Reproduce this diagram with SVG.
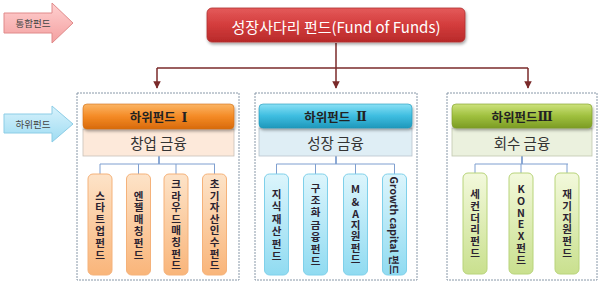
<svg xmlns="http://www.w3.org/2000/svg" width="600" height="285" viewBox="0 0 600 285">
<defs>
<linearGradient id="gRed" x1="0" y1="0" x2="0" y2="1"><stop offset="0" stop-color="#e45a5a"/><stop offset="0.5" stop-color="#d33c3c"/><stop offset="1" stop-color="#b82a2a"/></linearGradient>
<linearGradient id="gPink" x1="0" y1="0" x2="0" y2="1"><stop offset="0" stop-color="#ffd0d0"/><stop offset="1" stop-color="#f3a0a0"/></linearGradient>
<linearGradient id="gSky" x1="0" y1="0" x2="0" y2="1"><stop offset="0" stop-color="#d8f2fc"/><stop offset="1" stop-color="#9edcf2"/></linearGradient>
<linearGradient id="gOrH" x1="0" y1="0" x2="0" y2="1"><stop offset="0" stop-color="#fbb565"/><stop offset="0.5" stop-color="#f48a25"/><stop offset="1" stop-color="#d86a0c"/></linearGradient>
<linearGradient id="gBlH" x1="0" y1="0" x2="0" y2="1"><stop offset="0" stop-color="#8ae0f5"/><stop offset="0.5" stop-color="#3dbde0"/><stop offset="1" stop-color="#1f98bb"/></linearGradient>
<linearGradient id="gGrH" x1="0" y1="0" x2="0" y2="1"><stop offset="0" stop-color="#cde27d"/><stop offset="0.5" stop-color="#9fc03e"/><stop offset="1" stop-color="#7c9c25"/></linearGradient>
<linearGradient id="gOrL" x1="0" y1="0" x2="0" y2="1"><stop offset="0" stop-color="#fde3c8"/><stop offset="1" stop-color="#f9b57a"/></linearGradient>
<linearGradient id="gBlL" x1="0" y1="0" x2="0" y2="1"><stop offset="0" stop-color="#dcf5fc"/><stop offset="1" stop-color="#90dbf1"/></linearGradient>
<linearGradient id="gGrL" x1="0" y1="0" x2="0" y2="1"><stop offset="0" stop-color="#f3f9dc"/><stop offset="1" stop-color="#c9e08e"/></linearGradient>
<filter id="sh" x="-10%" y="-20%" width="120%" height="160%"><feDropShadow dx="1" dy="2" stdDeviation="1.5" flood-color="#000" flood-opacity="0.35"/></filter>
<marker id="ah" viewBox="0 0 10 10" refX="9" refY="5" markerWidth="5" markerHeight="5" orient="auto"><path d="M0,0 L10,5 L0,10 z" fill="#7a2a2a"/></marker>
<style>
.kr{font-family:"Noto Sans CJK KR","Noto Sans",sans-serif}
.rn{font-family:"DejaVu Serif","Noto Sans CJK KR",serif}
.group{fill:none;stroke:#8898a8;stroke-width:1;stroke-dasharray:2,1}
.hdr{font-size:12.5px;font-weight:bold;fill:#222;text-anchor:middle;dominant-baseline:central}
.sub{font-size:14.5px;fill:#333;text-anchor:middle;dominant-baseline:central}
.leaf{font-size:10.5px;font-weight:bold;fill:#2a2230;text-anchor:middle;dominant-baseline:central}
.tree{fill:none;stroke:#7f9fd0;stroke-width:1}
.trunk{fill:none;stroke:#3f6fb8;stroke-width:1.2}
.conn{fill:none;stroke:#7a2a2a;stroke-width:1.5}
</style>
</defs>
<rect width="600" height="285" fill="#ffffff"/>

<g id="label-tonghap">
<path d="M4,13 H52 V3 L73,23 L52,43 V33 H4 Z" fill="url(#gPink)" stroke="#e08a8a" stroke-width="1"/>
<text class="kr" x="33" y="23" font-size="9.5" fill="#444" text-anchor="middle" dominant-baseline="central">통합펀드</text>
</g>
<g id="label-hawi">
<path d="M4,114 H52 V106 L73,124 L52,142 V133 H4 Z" fill="url(#gSky)" stroke="#8ccde6" stroke-width="1"/>
<text class="kr" x="33" y="124" font-size="9.5" fill="#444" text-anchor="middle" dominant-baseline="central">하위펀드</text>
</g>

<g id="connectors">
<path class="conn" d="M336,43 V68"/>
<path class="conn" d="M157,68 H528"/>
<path class="conn" d="M157,68 V88" marker-end="url(#ah)"/>
<path class="conn" d="M336,68 V88" marker-end="url(#ah)"/>
<path class="conn" d="M528,68 V88" marker-end="url(#ah)"/>
<path class="trunk" d="M159,156 V164"/>
<path class="tree" d="M100,164 H215 M100,164 V174 M138.5,164 V174 M176,164 V174 M214.5,164 V174"/>
<path class="trunk" d="M336,156 V164"/>
<path class="tree" d="M276.5,164 H394.5 M276.5,164 V174 M315.5,164 V174 M355.5,164 V174 M394.5,164 V174"/>
<path class="trunk" d="M522,156 V164"/>
<path class="tree" d="M475,164 H568 M475,164 V173 M521,164 V173 M567,164 V173"/>
</g>

<g id="top">
<rect x="207" y="8" width="258" height="34" rx="5" fill="url(#gRed)" stroke="#b03030" stroke-width="0.8" filter="url(#sh)"/>
<text class="kr" x="336" y="26" font-size="15" fill="#ffffff" text-anchor="middle" dominant-baseline="central">성장사다리 펀드(Fund of Funds)</text>
</g>

<g id="group1">
<rect class="group" x="77" y="93" width="162" height="187"/>
<rect x="83" y="129" width="151" height="27" fill="#fde9da" stroke="#c8c0b8" stroke-width="0.8"/>
<rect x="83" y="104" width="151" height="25" rx="4" fill="url(#gOrH)" stroke="#d07018" stroke-width="0.6" filter="url(#sh)"/>
<text class="kr hdr" x="158.5" y="116.5">하위펀드 <tspan class="rn" dx="3">Ⅰ</tspan></text>
<text class="kr sub" x="158.5" y="142.5">창업 금융</text>
</g>
<g id="group2">
<rect class="group" x="255" y="93" width="162" height="187"/>
<rect x="259" y="128" width="153" height="28" fill="#dfeef5" stroke="#b8c4cc" stroke-width="0.8"/>
<rect x="259" y="104" width="153" height="24" rx="4" fill="url(#gBlH)" stroke="#1f98bb" stroke-width="0.6" filter="url(#sh)"/>
<text class="kr hdr" x="335.5" y="116">하위펀드 <tspan class="rn" dx="3">Ⅱ</tspan></text>
<text class="kr sub" x="335.5" y="142">성장 금융</text>
</g>
<g id="group3">
<rect class="group" x="447" y="93" width="150" height="187"/>
<rect x="452" y="128" width="140" height="28" fill="#ebf1de" stroke="#c0c8b0" stroke-width="0.8"/>
<rect x="452" y="104" width="140" height="24" rx="4" fill="url(#gGrH)" stroke="#7c9c25" stroke-width="0.6" filter="url(#sh)"/>
<text class="kr hdr" x="522" y="116">하위펀드<tspan class="rn">Ⅲ</tspan></text>
<text class="kr sub" x="522" y="142">회수 금융</text>
</g>

<g id="leaf-1-1">
<rect x="88" y="174" width="24" height="101" rx="5" fill="url(#gOrL)" stroke="#f5b27a" stroke-width="1"/>
<text class="kr leaf"><tspan x="100" y="194.5">스</tspan><tspan x="100" y="206.3">타</tspan><tspan x="100" y="218.1">트</tspan><tspan x="100" y="229.9">업</tspan><tspan x="100" y="241.7">펀</tspan><tspan x="100" y="253.5">드</tspan></text>
</g>
<g id="leaf-1-2">
<rect x="126.5" y="174" width="24" height="101" rx="5" fill="url(#gOrL)" stroke="#f5b27a" stroke-width="1"/>
<text class="kr leaf"><tspan x="138.5" y="194.5">엔</tspan><tspan x="138.5" y="206.3">젤</tspan><tspan x="138.5" y="218.1">매</tspan><tspan x="138.5" y="229.9">칭</tspan><tspan x="138.5" y="241.7">펀</tspan><tspan x="138.5" y="253.5">드</tspan></text>
</g>
<g id="leaf-1-3">
<rect x="164" y="174" width="24" height="101" rx="5" fill="url(#gOrL)" stroke="#f5b27a" stroke-width="1"/>
<text class="kr leaf"><tspan x="176" y="183">크</tspan><tspan x="176" y="194.6">라</tspan><tspan x="176" y="206.2">우</tspan><tspan x="176" y="217.8">드</tspan><tspan x="176" y="229.4">매</tspan><tspan x="176" y="241">칭</tspan><tspan x="176" y="252.6">펀</tspan><tspan x="176" y="264.2">드</tspan></text>
</g>
<g id="leaf-1-4">
<rect x="202.5" y="174" width="24" height="101" rx="5" fill="url(#gOrL)" stroke="#f5b27a" stroke-width="1"/>
<text class="kr leaf"><tspan x="214.5" y="183">초</tspan><tspan x="214.5" y="194.6">기</tspan><tspan x="214.5" y="206.2">자</tspan><tspan x="214.5" y="217.8">산</tspan><tspan x="214.5" y="229.4">인</tspan><tspan x="214.5" y="241">수</tspan><tspan x="214.5" y="252.6">펀</tspan><tspan x="214.5" y="264.2">드</tspan></text>
</g>

<g id="leaf-2-1">
<rect x="264.5" y="174" width="24" height="101" rx="5" fill="url(#gBlL)" stroke="#7fd0ea" stroke-width="1"/>
<text class="kr leaf"><tspan x="276.5" y="193">지</tspan><tspan x="276.5" y="205.4">식</tspan><tspan x="276.5" y="217.8">재</tspan><tspan x="276.5" y="230.2">산</tspan><tspan x="276.5" y="242.6">펀</tspan><tspan x="276.5" y="255">드</tspan></text>
</g>
<g id="leaf-2-2">
<rect x="303.5" y="174" width="24" height="101" rx="5" fill="url(#gBlL)" stroke="#7fd0ea" stroke-width="1"/>
<text class="kr leaf"><tspan x="315.5" y="187">구</tspan><tspan x="315.5" y="199.2">조</tspan><tspan x="315.5" y="211.4">화</tspan><tspan x="315.5" y="223.6">금</tspan><tspan x="315.5" y="235.8">융</tspan><tspan x="315.5" y="248">펀</tspan><tspan x="315.5" y="260.2">드</tspan></text>
</g>
<g id="leaf-2-3">
<rect x="343.5" y="174" width="24" height="101" rx="5" fill="url(#gBlL)" stroke="#7fd0ea" stroke-width="1"/>
<text class="kr leaf"><tspan x="355.5" y="188">M</tspan><tspan x="355.5" y="201">&amp;</tspan><tspan x="355.5" y="212.5">A</tspan><tspan x="355.5" y="223.5">지</tspan><tspan x="355.5" y="235">원</tspan><tspan x="355.5" y="246.5">펀</tspan><tspan x="355.5" y="258">드</tspan></text>
</g>
<g id="leaf-2-4">
<rect x="382.5" y="174" width="24" height="101" rx="5" fill="url(#gBlL)" stroke="#7fd0ea" stroke-width="1"/>
<text class="kr leaf" transform="translate(394.5,225.5) rotate(90)" x="0" y="0" font-size="10">Growth capital 펀드</text>
</g>

<g id="leaf-3-1">
<rect x="463" y="173" width="24" height="101" rx="5" fill="url(#gGrL)" stroke="#b8d47a" stroke-width="1"/>
<text class="kr leaf"><tspan x="475" y="193">세</tspan><tspan x="475" y="204.8">컨</tspan><tspan x="475" y="216.6">더</tspan><tspan x="475" y="228.4">리</tspan><tspan x="475" y="240.2">펀</tspan><tspan x="475" y="252">드</tspan></text>
</g>
<g id="leaf-3-2">
<rect x="509" y="173" width="24" height="101" rx="5" fill="url(#gGrL)" stroke="#b8d47a" stroke-width="1"/>
<text class="kr leaf"><tspan x="521" y="188">K</tspan><tspan x="521" y="199.8">O</tspan><tspan x="521" y="211.6">N</tspan><tspan x="521" y="223.4">E</tspan><tspan x="521" y="235.2">X</tspan><tspan x="521" y="247">펀</tspan><tspan x="521" y="258.8">드</tspan></text>
</g>
<g id="leaf-3-3">
<rect x="555" y="173" width="24" height="101" rx="5" fill="url(#gGrL)" stroke="#b8d47a" stroke-width="1"/>
<text class="kr leaf"><tspan x="567" y="193">재</tspan><tspan x="567" y="204.8">기</tspan><tspan x="567" y="216.6">지</tspan><tspan x="567" y="228.4">원</tspan><tspan x="567" y="240.2">펀</tspan><tspan x="567" y="252">드</tspan></text>
</g>
</svg>
